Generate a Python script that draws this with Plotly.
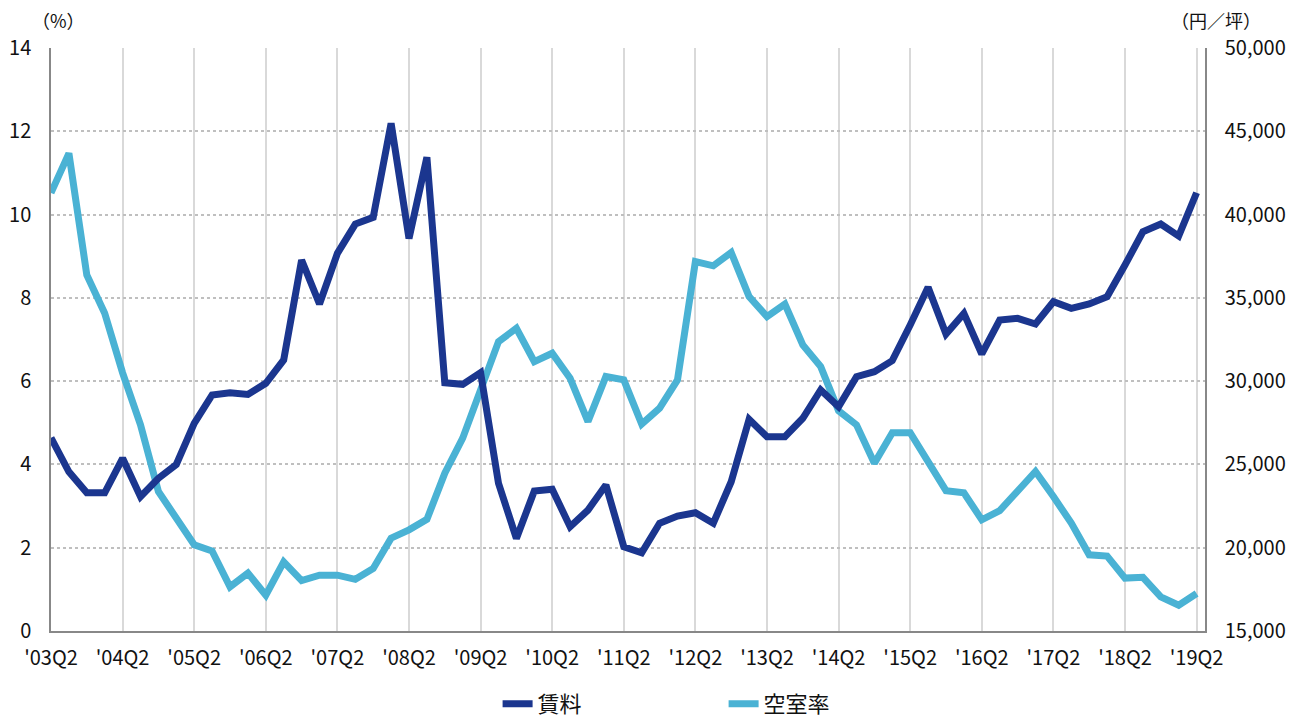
import plotly.graph_objects as go

quarters = ["'%02dQ%d" % (y, q) for y in range(3, 20) for q in (1, 2, 3, 4)]
quarters = quarters[1:66]  # '03Q2 .. '19Q2

tick_labels = ["'03Q2", "'04Q2", "'05Q2", "'06Q2", "'07Q2", "'08Q2", "'09Q2", "'10Q2", "'11Q2",
               "'12Q2", "'13Q2", "'14Q2", "'15Q2", "'16Q2", "'17Q2", "'18Q2", "'19Q2"]

rent = [26600, 24560, 23300, 23300, 25370, 23060, 24170, 25000, 27470, 29170,
        29300, 29200, 29870, 31270, 37270, 34630, 37670, 39430, 39830, 45480,
        38570, 43440, 29900, 29810, 30510, 23870, 20560, 23400, 23510, 21260,
        22260, 23760, 20060, 19700, 21470, 21900, 22100, 21470, 23960, 27710,
        26660, 26660, 27770, 29470, 28460, 30270, 30570, 31230, 33370, 35630,
        32830, 34070, 31630, 33670, 33770, 33430, 34770, 34370, 34630, 35070,
        36970, 38970, 39430, 38710, 41310]

vacancy = [10.52, 11.47, 8.55, 7.63, 6.2, 4.95, 3.35, 2.71, 2.07, 1.92,
           1.06, 1.39, 0.86, 1.66, 1.21, 1.34, 1.34, 1.24, 1.5, 2.23,
           2.43, 2.68, 3.79, 4.63, 5.75, 6.95, 7.27, 6.47, 6.67, 6.07,
           5.03, 6.11, 6.03, 4.97, 5.35, 6.03, 8.87, 8.77, 9.09, 8.03,
           7.55, 7.85, 6.87, 6.35, 5.29, 4.95, 4.03, 4.76, 4.76, 4.07,
           3.37, 3.32, 2.67, 2.89, 3.39, 3.83, 3.23, 2.59, 1.83, 1.8,
           1.27, 1.29, 0.82, 0.62, 0.9]

x_idx = list(range(len(quarters)))
tick_vals = x_idx[::4]

RENT_COLOR = "#1B368F"
VAC_COLOR = "#4AB2D4"
FONT = "Noto Sans CJK JP"

fig = go.Figure()
fig.add_trace(go.Scatter(x=x_idx, y=rent, name="賃料", mode="lines",
                         line=dict(color=RENT_COLOR, width=7), yaxis="y2",
                         customdata=quarters))
fig.add_trace(go.Scatter(x=x_idx, y=vacancy, name="空室率", mode="lines",
                         line=dict(color=VAC_COLOR, width=7), yaxis="y",
                         customdata=quarters))

fig.update_layout(
    width=1290, height=722,
    margin=dict(l=51, r=85, t=48, b=91, autoexpand=False),
    paper_bgcolor="white", plot_bgcolor="white",
    font=dict(family=FONT, size=20, color="#111111"),
    showlegend=True,
    legend=dict(orientation="h", x=0.387, xanchor="left", y=-0.125, yanchor="middle",
                font=dict(size=22, family=FONT), entrywidth=181, entrywidthmode="pixels",
                traceorder="normal"),
    xaxis=dict(range=[0, 64.47], tickmode="array", tickvals=tick_vals, ticktext=tick_labels,
               showgrid=True, gridcolor="#D9D9D9", gridwidth=1.5,
               showline=True, linecolor="#888888", linewidth=1.5,
               ticks="", zeroline=False, tickfont=dict(size=20, family=FONT),
               ticklabelstandoff=8),
    yaxis=dict(range=[0, 14], dtick=2, tick0=0, showgrid=True, gridcolor="#BFBFBF",
               gridwidth=1.5, griddash="dot", showline=True, linecolor="#888888",
               linewidth=1.5, ticks="", zeroline=False, tickfont=dict(size=20, family=FONT),
               ticklabelstandoff=14),
    yaxis2=dict(range=[15000, 50000], dtick=5000, tick0=15000, overlaying="y", side="right",
                showgrid=False, showline=True, linecolor="#888888", linewidth=1.5,
                ticks="", zeroline=False, tickformat=",d", tickfont=dict(size=20, family=FONT),
                ticklabelstandoff=14),
    annotations=[
        dict(text="（%）", xref="paper", yref="paper", x=-0.018, y=1.0, yshift=28,
             xanchor="left", yanchor="middle", showarrow=False, font=dict(size=18, family=FONT)),
        dict(text="（円／坪）", xref="paper", yref="paper", x=1.05, y=1.0, yshift=28,
             xanchor="right", yanchor="middle", showarrow=False, font=dict(size=18, family=FONT)),
    ],
)

fig.write_html("out.html")
